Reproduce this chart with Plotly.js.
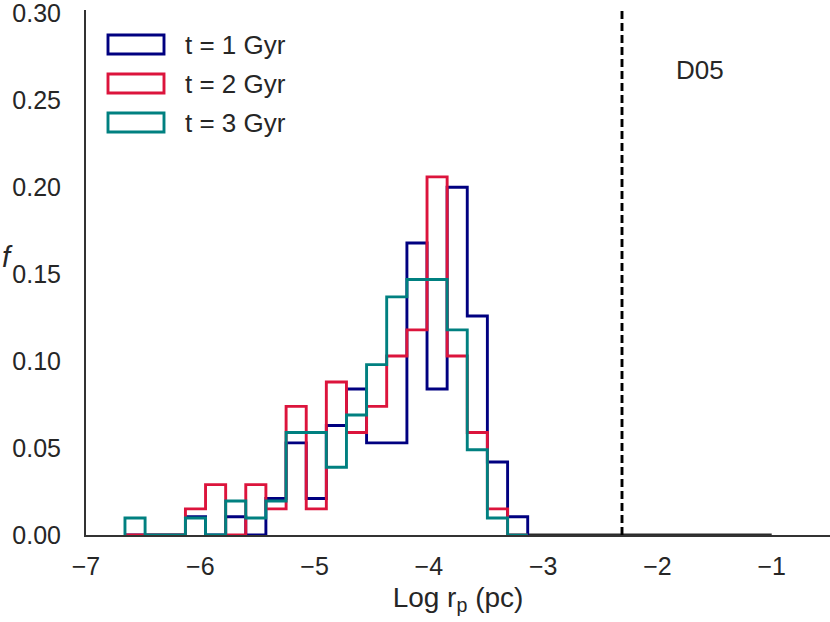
<!DOCTYPE html>
<html>
<head>
<meta charset="utf-8">
<script src="https://cdn.plot.ly/plotly-3.0.1.min.js"></script>
<style>
  html, body { margin: 0; padding: 0; background: #fff; }
  #chart { width: 830px; height: 622px; }
</style>
</head>
<body>
<div id="chart"></div>
<script>
// shared bin edges (Log r_p)
var binEdges = [-6.659, -6.483, -6.307, -6.130, -5.954, -5.778, -5.602, -5.426, -5.249, -5.073,
                -4.897, -4.721, -4.545, -4.369, -4.192, -4.016, -3.840, -3.664, -3.488, -3.311, -3.135];

// fraction per bin
var fracT1 = [0, 0, 0, 0.0105, 0, 0.0105, 0, 0.021, 0.053, 0.021,
              0.063, 0.084, 0.053, 0.053, 0.168, 0.084, 0.200, 0.126, 0.042, 0.0105];
var fracT2 = [0, 0, 0, 0.015, 0.029, 0, 0.029, 0.015, 0.074, 0.015,
              0.088, 0.059, 0.074, 0.103, 0.118, 0.206, 0.103, 0.059, 0.015, 0];
var fracT3 = [0.0098, 0, 0, 0.0098, 0, 0.0196, 0.0098, 0.0196, 0.059, 0.059,
              0.039, 0.069, 0.098, 0.137, 0.147, 0.147, 0.118, 0.049, 0.0098, 0];

var seriesNames = ['t = 1 Gyr', 't = 2 Gyr', 't = 3 Gyr'];
var seriesColors = ['#000080', '#DC143C', '#008080'];

// empty tail of the histogram along the baseline
var tailEdges = [-3.135, -1.0];
var tailValues = [0, 0];

// D05 limit
var d05Limit = -2.31;
var d05Label = 'D05';
var xTickVals = [-7, -6, -5, -4, -3, -2, -1];

var FONT = 'Liberation Sans, Arial, sans-serif';
var TEXT = '#262626';
var LW = 2.9;

var W = 830, H = 622;
var M = {l: 86, r: 0, t: 10, b: 87};
var plotW = W - M.l - M.r, plotH = H - M.t - M.b;

function px2paperX(px) { return (px - M.l) / plotW; }
function px2paperY(py) { return (H - M.b - py) / plotH; }

// closed step outline like histtype='step'
function stepTrace(edges, values, color)
{
    var x = [edges[0]];
    var y = [0];
    for (var i = 0; i < values.length; i++) {
        x.push(edges[i]);
        y.push(values[i]);
    }
    x.push(edges[edges.length - 1]);
    y.push(0);
    return {
        x: x, y: y,
        type: 'scatter', mode: 'lines',
        line: {shape: 'hv', color: color, width: LW},
        hoverinfo: 'skip'
    };
}

var allFracs = [fracT1, fracT2, fracT3];
var traces = [];
traces.push({
    x: tailEdges, y: tailValues, type: 'scatter', mode: 'lines',
    line: {color: '#2b2b2b', width: LW}, hoverinfo: 'skip'
});
for (var s = 0; s < allFracs.length; s++)
    traces.push(stepTrace(binEdges, allFracs[s], seriesColors[s]));

// hand-made legend with hollow patches
var shapes = [];
var annotations = [];
for (var k = 0; k < seriesNames.length; k++) {
    var rowTop = 35 + k * 39;
    shapes.push({
        type: 'rect', xref: 'paper', yref: 'paper',
        x0: px2paperX(108), x1: px2paperX(164),
        y0: px2paperY(rowTop), y1: px2paperY(rowTop + 19),
        line: {color: seriesColors[k], width: LW},
        fillcolor: 'rgba(0,0,0,0)'
    });
    annotations.push({
        xref: 'paper', yref: 'paper',
        x: px2paperX(183), y: px2paperY(rowTop + 10),
        xanchor: 'left', yanchor: 'middle',
        text: seriesNames[k], showarrow: false,
        font: {family: FONT, size: 26, color: TEXT}
    });
}

shapes.push({
    type: 'line', xref: 'x', yref: 'paper',
    x0: d05Limit, x1: d05Limit, y0: 0, y1: 1,
    line: {color: '#000', width: LW, dash: '8px,4px'}
});

annotations.push({
    xref: 'x', yref: 'paper',
    x: -1.63, y: px2paperY(70),
    xanchor: 'center', yanchor: 'middle',
    text: d05Label, showarrow: false,
    font: {family: FONT, size: 26, color: TEXT}
});

annotations.push({
    xref: 'paper', yref: 'paper',
    x: px2paperX(0), y: px2paperY(257),
    xanchor: 'left', yanchor: 'middle',
    text: '<i>f</i>', showarrow: false,
    font: {family: FONT, size: 29, color: TEXT}
});

var layout = {
    width: W, height: H,
    margin: M,
    paper_bgcolor: '#fff',
    plot_bgcolor: '#fff',
    showlegend: false,
    font: {family: FONT, color: TEXT},
    xaxis: {
        range: [-7, -0.49],
        tickvals: xTickVals,
        ticks: 'outside', ticklen: 8, tickcolor: 'rgba(0,0,0,0)',
        showline: true, linecolor: '#333', linewidth: 2,
        showgrid: false, zeroline: false,
        layer: 'above traces',
        ticklabeloverflow: 'allow',
        tickfont: {family: FONT, size: 25, color: TEXT},
        title: {text: 'Log r<sub>p</sub> (pc)', font: {family: FONT, size: 28, color: TEXT}, standoff: 8}
    },
    yaxis: {
        range: [0, 0.302],
        dtick: 0.05, tick0: 0,
        tickformat: '.2f',
        ticks: 'outside', ticklen: 18, tickcolor: 'rgba(0,0,0,0)',
        showline: true, linecolor: '#333', linewidth: 2,
        showgrid: false, zeroline: false,
        layer: 'above traces',
        ticklabeloverflow: 'allow',
        tickfont: {family: FONT, size: 25, color: TEXT}
    },
    shapes: shapes,
    annotations: annotations
};

Plotly.newPlot('chart', traces, layout, {staticPlot: true, displayModeBar: false});
</script>
</body>
</html>
